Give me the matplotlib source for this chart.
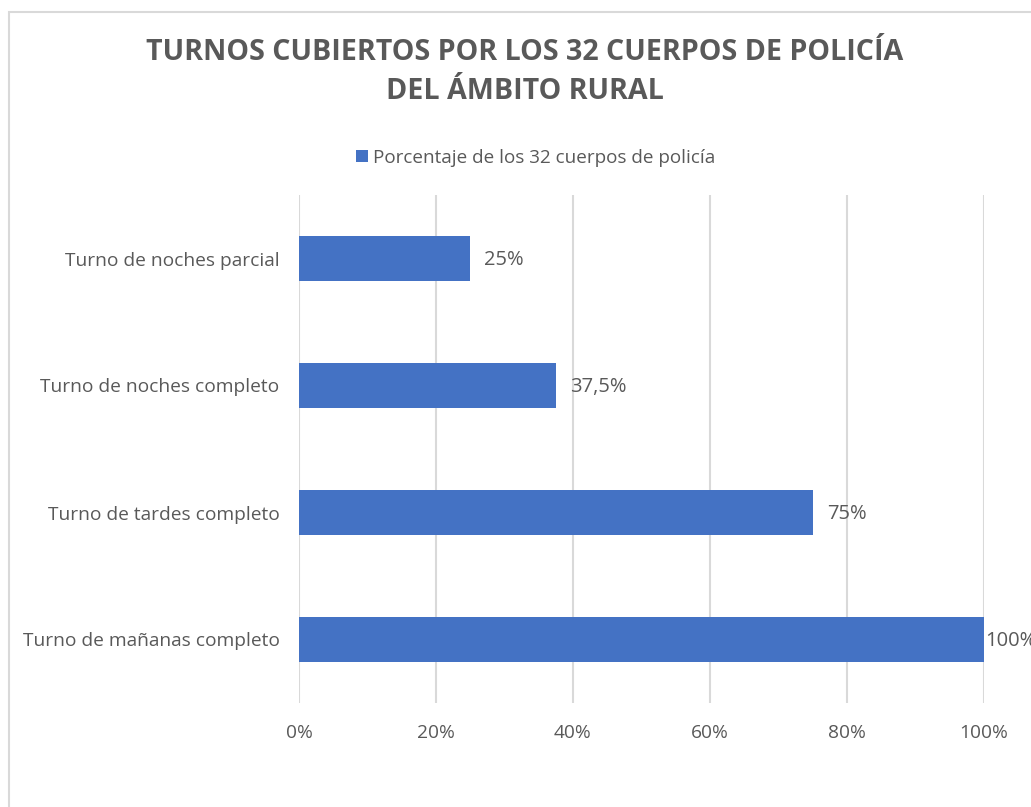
import matplotlib
matplotlib.use("Agg")
import matplotlib.pyplot as plt
from matplotlib.patches import Rectangle
from matplotlib.ticker import FuncFormatter

categories = ["Turno de mañanas completo", "Turno de tardes completo",
              "Turno de noches completo", "Turno de noches parcial"]
values = [100, 75, 37.5, 25]
value_labels = ["100%", "75%", "37,5%", "25%"]
xticks = [0, 20, 40, 60, 80, 100]
title = "TURNOS CUBIERTOS POR LOS 32 CUERPOS DE POLICÍA\nDEL ÁMBITO RURAL"
legend_label = "Porcentaje de los 32 cuerpos de policía"

W, H = 1031, 807
fig = plt.figure(figsize=(W / 100, H / 100), dpi=100)
plt.rcParams['font.family'] = ['Open Sans', 'DejaVu Sans']

gray = "#595959"
blue = "#4472C4"
grid = "#D9D9D9"

# outer chart border (cut at right/bottom as in reference)
fig.patches.append(Rectangle((9 / W, -0.05), 1.2, 1 - 12 / H + 0.05,
                             transform=fig.transFigure, fill=False,
                             edgecolor=grid, linewidth=1.5))

ax = fig.add_axes([299 / W, 1 - 703 / H, (984 - 299) / W, (703 - 195) / H])
y = list(range(len(categories)))
bars = ax.barh(y, values, height=0.355, color=blue, label=legend_label, zorder=3)
ax.set_xlim(0, 100)
ax.set_ylim(-0.5, len(categories) - 0.5)
ax.set_yticks(y)
ax.set_yticklabels(categories, fontsize=13.8, color=gray)
ax.set_xticks(xticks)
ax.xaxis.set_major_formatter(FuncFormatter(lambda v, p: f"{v:.0f}%"))
ax.tick_params(axis='x', labelsize=13.8, labelcolor=gray, length=0, pad=15)
ax.tick_params(axis='y', length=0, pad=14)
for s in ax.spines.values():
    s.set_visible(False)
ax.grid(axis='x', color=grid, linewidth=1.5, zorder=0)
ax.set_axisbelow(True)

vmax = max(values)
for yi, v, lab in zip(y, values, value_labels):
    off = 1 if v >= vmax else 10
    ax.annotate(lab, (v, yi), xytext=(off, -1), textcoords="offset points",
                va="center", ha="left", fontsize=14.5, color=gray,
                annotation_clip=False)

fig.text(525 / W, 1 - 72 / H, title, ha="center", va="center", fontsize=20.6,
         fontweight="bold", color=gray, linespacing=1.45)

# legend
fig.legend(handles=[bars], labels=[legend_label], loc="center",
           bbox_to_anchor=(536 / W, 1 - 158 / H), frameon=False, fontsize=13.6,
           labelcolor=gray, handlelength=0.6, handleheight=0.6, handletextpad=0.3)

fig.savefig("out.png", dpi=100)
